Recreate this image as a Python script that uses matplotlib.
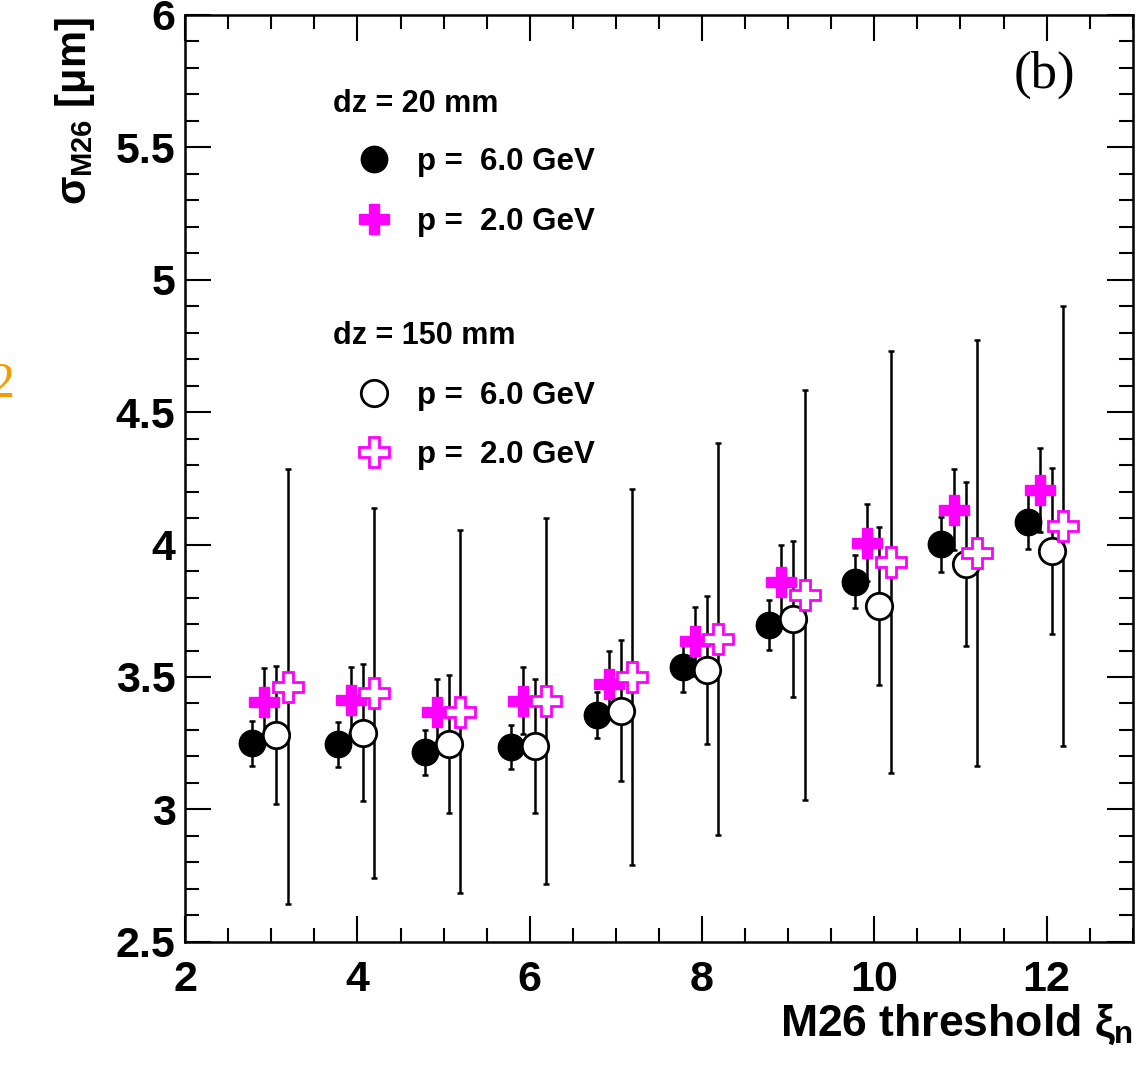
import numpy as np
import matplotlib
matplotlib.use("Agg")
import matplotlib.pyplot as plt
from matplotlib.lines import Line2D

plt.rcParams['font.family'] = ['Liberation Sans', 'DejaVu Sans']
plt.rcParams['font.weight'] = 'bold'
plt.rcParams['mathtext.fontset'] = 'custom'
plt.rcParams['mathtext.rm'] = 'Liberation Sans:bold'
plt.rcParams['mathtext.bf'] = 'Liberation Sans:bold'
plt.rcParams['mathtext.it'] = 'Liberation Sans'

# M26 threshold values
xi = np.arange(3, 13)

# dz = 20 mm, p = 6 GeV
s20_p6 = [3.25, 3.246, 3.215, 3.237, 3.357, 3.537, 3.697, 3.86, 4.002, 4.087]
e20_p6 = [0.085, 0.085, 0.085, 0.083, 0.088, 0.093, 0.095, 0.100, 0.104, 0.105]
# dz = 20 mm, p = 2 GeV
s20_p2 = [3.407, 3.413, 3.369, 3.41, 3.474, 3.634, 3.858, 4.007, 4.131, 4.206]
e20_p2 = [0.126, 0.126, 0.124, 0.127, 0.126, 0.132, 0.140, 0.146, 0.153, 0.157]
# dz = 150 mm, p = 6 GeV
s150_p6 = [3.281, 3.29, 3.246, 3.24, 3.373, 3.527, 3.718, 3.768, 3.926, 3.976]
e150_p6 = [0.26, 0.26, 0.26, 0.254, 0.267, 0.28, 0.295, 0.297, 0.31, 0.313]
# dz = 150 mm, p = 2 GeV
s150_p2 = [3.464, 3.44, 3.369, 3.41, 3.499, 3.643, 3.809, 3.933, 3.967, 4.071]
e150_p2 = [0.82, 0.70, 0.685, 0.69, 0.71, 0.74, 0.775, 0.797, 0.805, 0.83]

labels = ['p =  6.0 GeV', 'p =  2.0 GeV']
magenta = '#ff00ff'

fig = plt.figure(figsize=(11.43, 10.69), dpi=100)
ax = fig.add_axes([0.162, 0.119, 0.829, 0.867])

series = [
    (s20_p6, e20_p6, -0.22, dict(marker='o', ms=19, mfc='black', mec='black')),
    (s20_p2, e20_p2, -0.08, dict(marker='P', ms=21, mfc=magenta, mec=magenta)),
    (s150_p6, e150_p6, 0.06, dict(marker='o', ms=19, mfc='white', mec='black', mew=2)),
    (s150_p2, e150_p2, 0.19, dict(marker='P', ms=21, mfc='white', mec=magenta, mew=2)),
]

for y, e, dx, style in series:
    ax.errorbar(xi + dx, y, yerr=e, fmt='none', ecolor='black',
                elinewidth=1.8, capsize=2.5, capthick=1.8, zorder=2)
for y, e, dx, style in series:
    ax.plot(xi + dx, y, ls='none', zorder=3, **style)

ax.set_xlim(2, 13)
ax.set_ylim(2.5, 6)
ax.set_xticks(np.arange(2, 13, 2))
ax.set_xticks(np.arange(2, 13.01, 0.5), minor=True)
ax.set_yticks(np.arange(2.5, 6.01, 0.5))
ax.set_yticks(np.arange(2.5, 6.01, 0.1), minor=True)
ax.set_yticklabels(['2.5', '3', '3.5', '4', '4.5', '5', '5.5', '6'])
ax.tick_params(which='both', direction='in', top=True, right=True, width=1.5)
ax.tick_params(which='major', length=19, labelsize=31)
ax.tick_params(which='minor', length=10)
ax.tick_params(axis='x', pad=13)
ax.tick_params(axis='y', pad=7)
for sp in ax.spines.values():
    sp.set_linewidth(1.8)

ax.set_xlabel(r'M26 threshold $\xi_{\mathrm{n}}$', fontsize=32, fontweight='bold',
              ha='right', x=1.0, labelpad=2)
fig.text(0.066, 0.984, r'$\sigma_{\mathrm{M26}}$ $\mathrm{[\mu m]}$', rotation=90,
         ha='center', va='top', fontsize=30)

# legend: two groups with headings
ax.text(0.156, 0.904, 'dz = 20 mm', transform=ax.transAxes, fontsize=22, va='center')
ax.text(0.156, 0.654, 'dz = 150 mm', transform=ax.transAxes, fontsize=22, va='center')

h20 = [Line2D([], [], ls='none', **series[0][3]), Line2D([], [], ls='none', **series[1][3])]
h150 = [Line2D([], [], ls='none', **series[2][3]), Line2D([], [], ls='none', **series[3][3])]
leg_kw = dict(loc='upper left', frameon=False, fontsize=22.5, handlelength=1.0,
              handletextpad=0.85, labelspacing=0.95, borderaxespad=0)
leg1 = ax.legend(h20, labels, bbox_to_anchor=(0.170, 0.871), **leg_kw)
ax.add_artist(leg1)
ax.legend(h150, labels, bbox_to_anchor=(0.170, 0.619), **leg_kw)

ax.text(0.907, 0.935, '(b)', transform=ax.transAxes, fontsize=38, ha='center',
        va='center', family='Liberation Serif', weight='normal')

fig.text(0.013, 0.64, '2', color='#f59a00', fontsize=36, ha='right', va='center',
         family='Liberation Serif', weight='normal')

fig.savefig('out.png', dpi=100)
